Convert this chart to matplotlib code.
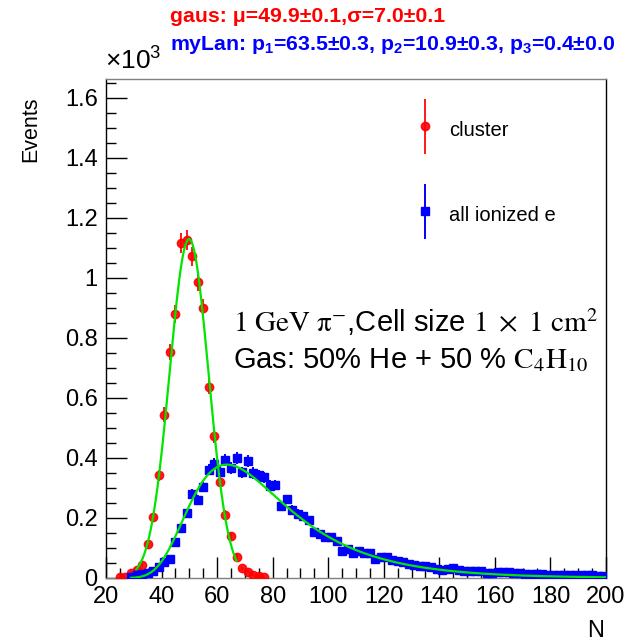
import numpy as np
import matplotlib
matplotlib.use("Agg")
import matplotlib.pyplot as plt
from matplotlib.ticker import MultipleLocator, FuncFormatter
from matplotlib.legend_handler import HandlerErrorbar
from matplotlib.container import ErrorbarContainer

plt.rcParams['font.family'] = ['Liberation Sans', 'DejaVu Sans']
plt.rcParams['mathtext.fontset'] = 'custom'
plt.rcParams['mathtext.rm'] = 'Liberation Sans'
plt.rcParams['mathtext.it'] = 'Liberation Sans:italic'
plt.rcParams['mathtext.bf'] = 'Liberation Sans:bold'

# ---- data (events per bin, bin width 2) ----
cluster_N = list(range(25, 79, 2))
cluster_counts = [2, 2, 18, 27, 43, 115, 204, 343, 545, 754, 879, 1116, 1126, 1072,
                  988, 900, 638, 473, 321, 211, 139, 71, 32, 21, 10, 7, 2]

ion_N = list(range(29, 201, 2))
ion_counts = [4, 10, 14, 18, 24, 36, 53, 64, 120, 166, 216, 281, 261, 304, 361, 381,
              354, 393, 366, 399, 352, 391, 350, 343, 336, 308, 310, 241, 262, 227,
              214, 207, 193, 154, 147, 138, 136, 123, 90, 96, 84, 91, 84, 82, 64, 70,
              71, 60, 58, 54, 48, 43, 40, 40, 36, 30, 27, 30, 32, 26, 23, 24, 22, 24,
              16, 18, 21, 20, 21, 18, 16, 15, 14, 12, 12, 11, 10, 10, 11, 10, 10, 9,
              11, 10, 7, 8]

# fit results
gaus_amp, gaus_mu, gaus_sigma = 1130.0, 49.9, 7.0
gaus_range = (31.0, 67.0)
lan_amp, lan_mpv, lan_width = 378.0, 63.5, 12.3
lan_range = (29.0, 200.0)

title1 = r'gaus: μ=49.9±0.1,σ=7.0±0.1'
title2 = (r'myLan: p$_{\mathbf{1}}$=63.5±0.3, p$_{\mathbf{2}}$=10.9±0.3, '
          r'p$_{\mathbf{3}}$=0.4±0.0')

W, H = 638, 641
fig = plt.figure(figsize=(W/100, H/100), dpi=100)
x0, x1, y0, y1 = 106, 606, 79, 578   # axes frame in pixels
ax = fig.add_axes([x0/W, (H-y1)/H, (x1-x0)/W, (y1-y0)/H])
aw, ah = x1-x0, y1-y0

def axc(px, py):
    return (px-x0)/aw, (y1-py)/ah

red = '#ff0000'
blue = '#0000ff'
green = '#00e600'

c_err = np.sqrt(np.array(cluster_counts, dtype=float))
i_err = np.sqrt(np.array(ion_counts, dtype=float))

eb_red = ax.errorbar(cluster_N, cluster_counts, yerr=c_err, fmt='o', color=red,
                     ms=6, elinewidth=1.4, capsize=0, mec=red, alpha=0.9, zorder=3)
eb_blue = ax.errorbar(ion_N, ion_counts, yerr=i_err, fmt='s', color=blue,
                      ms=5.5, elinewidth=1.4, capsize=0, mec=blue, zorder=3)

xg = np.linspace(gaus_range[0], gaus_range[1], 200)
ax.plot(xg, gaus_amp*np.exp(-0.5*((xg-gaus_mu)/gaus_sigma)**2), color=green, lw=1.6, zorder=4)
xl = np.linspace(lan_range[0], lan_range[1], 400)
lam = (xl-lan_mpv)/lan_width
ax.plot(xl, lan_amp*np.exp(-0.5*(lam+np.exp(-lam)) + 0.5), color=green, lw=1.6, zorder=4)

ax.set_xlim(20, 200)
ax.set_ylim(0, (y1-y0)/300*1000)
ax.xaxis.set_major_locator(MultipleLocator(20))
ax.xaxis.set_minor_locator(MultipleLocator(5))
ax.yaxis.set_major_locator(MultipleLocator(200))
ax.yaxis.set_minor_locator(MultipleLocator(50))
ax.yaxis.set_major_formatter(FuncFormatter(lambda v, p: '%g' % (v/1000)))
ax.tick_params(which='both', direction='in', top=False, right=False, labelsize=17,
               color='black', width=1)
ax.tick_params(which='major', length=15, pad=6)
ax.tick_params(which='minor', length=7.5)
for s in ['bottom', 'top']:
    ax.spines[s].set_color('#808080')
for s in ['left', 'right']:
    ax.spines[s].set_color('#000000')
for s in ax.spines.values():
    s.set_linewidth(1.0)

ax.set_xlabel('N', loc='right', fontsize=17)
ax.xaxis.set_label_coords(*axc(604, 620))
ax.set_ylabel('Events', loc='top', fontsize=15.5)
ax.yaxis.set_label_coords(*axc(41, 96))
ax.text(*axc(105, 70), r'$\times$10$^{3}$', transform=ax.transAxes, fontsize=19,
        ha='left', va='baseline')

fig.text(170/W, 1-17/H, title1, color=red, fontsize=15.3, fontweight='bold',
         ha='left', va='center')
fig.text(170/W, 1-45/H, title2, color=blue, fontsize=15.3, fontweight='bold',
         ha='left', va='center')

ax.text(*axc(233, 322), r'$\mathrm{1\ GeV\ \pi^{-}}$,Cell size $\mathrm{1\ \times\ 1\ cm^{2}}$',
        transform=ax.transAxes, fontsize=21, ha='left', va='center', math_fontfamily='stix')
ax.text(*axc(233, 360), r'Gas: 50% He + 50 % $\mathrm{C_{4}H_{10}}$',
        transform=ax.transAxes, fontsize=21, ha='left', va='center', math_fontfamily='stix')

leg = ax.legend([eb_red, eb_blue], ['cluster', 'all ionized e'],
                loc='upper left', bbox_to_anchor=axc(416, 117),
                frameon=False, fontsize=14.5, handlelength=0.9, handletextpad=0.75,
                labelspacing=3.0, handleheight=1.5, borderpad=0, borderaxespad=0,
                handler_map={ErrorbarContainer: HandlerErrorbar(xerr_size=0.5, yerr_size=1.35)})

fig.savefig('out.png', dpi=100)
